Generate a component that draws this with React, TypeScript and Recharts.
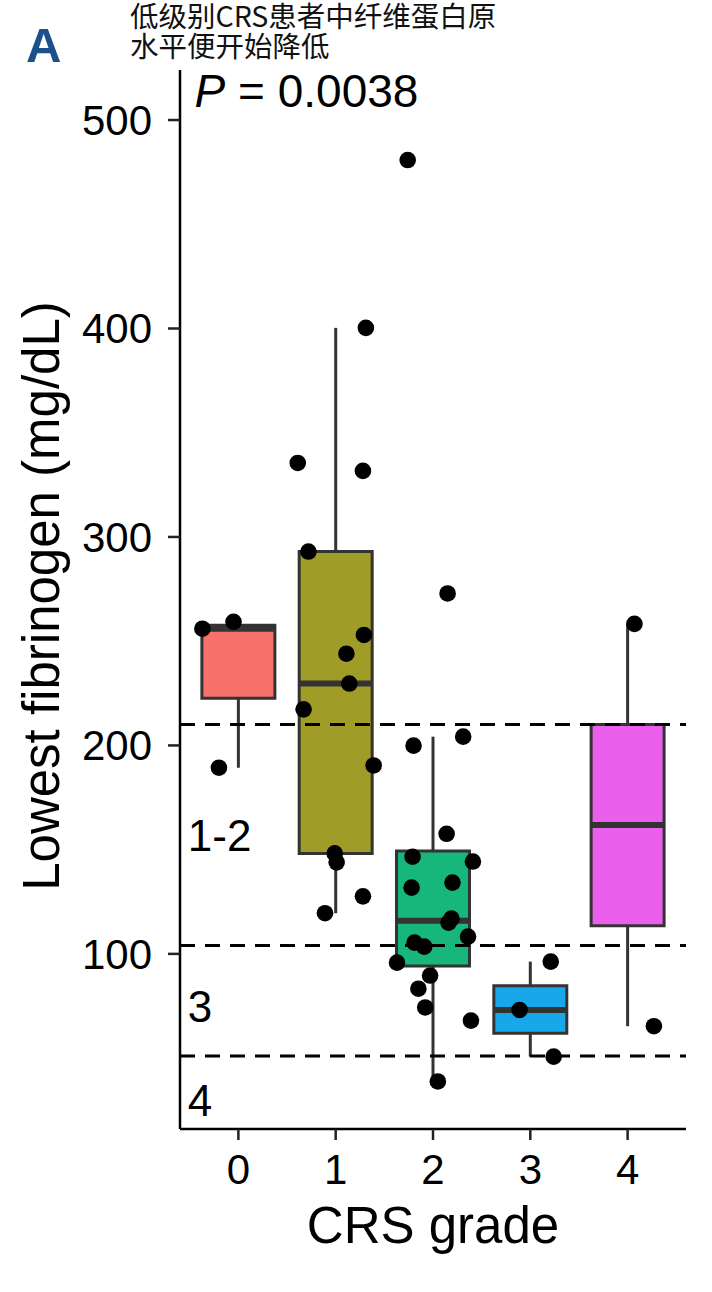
import { ComposedChart, XAxis, YAxis, Scatter, ReferenceArea, ReferenceLine } from 'recharts';

const FONT = '"Liberation Sans", Arial, Helvetica, sans-serif';
const CJK_FONT = '"Noto Sans CJK SC", sans-serif';

const grades = [0, 1, 2, 3, 4];
const gradeColors = ['#f8716a', '#9f9d27', '#17b67b', '#18a7e9', '#ea60ec'];
const yTicks = [100, 200, 300, 400, 500];

// lowest fibrinogen per patient (mg/dL), with the horizontal jitter seen in the figure
const grade0Values = [256, 259.3, 189.3];
const grade0Jitter = [-0.37, -0.05, -0.2];
const grade1Values = [335.5, 331.7, 400.3, 293, 253, 244, 229.7, 217.3, 190.4, 148.2, 143.9, 127.6, 119.5];
const grade1Jitter = [-0.39, 0.28, 0.31, -0.28, 0.29, 0.11, 0.14, -0.33, 0.39, -0.01, 0.01, 0.28, -0.11];
const grade2Values = [480.8, 272.9, 199.9, 204.2, 157.6, 146.6, 144.3, 131.8, 134.2, 116.9, 115, 108.3, 105.4, 103.5, 95.8, 89.6, 83.3, 74.3, 68, 38.8];
const grade2Jitter = [-0.26, 0.15, -0.2, 0.31, 0.14, -0.21, 0.41, -0.22, 0.2, 0.19, 0.16, 0.36, -0.19, -0.09, -0.37, -0.03, -0.15, -0.08, 0.39, 0.05];
const grade3Values = [73.1, 96.3, 50.7];
const grade3Jitter = [-0.11, 0.21, 0.24];
const grade4Values = [258.3, 65.3];
const grade4Jitter = [0.07, 0.27];

const gradeValues = [grade0Values, grade1Values, grade2Values, grade3Values, grade4Values];
const gradeJitter = [grade0Jitter, grade1Jitter, grade2Jitter, grade3Jitter, grade4Jitter];

// CRS grade cut-offs and their labels
const cutoffs = [210, 104, 51];
const bandLabels = ['1-2', '3', '4'];
const bandLabelY = [157, 75, 30];
const pLabel = '0.0038';

const titleLines = ['低级别CRS患者中纤维蛋白原', '水平便开始降低'];

const quantile = (sorted: number[], p: number) => {
  const h = (sorted.length - 1) * p;
  const lo = Math.floor(h);
  const hi = Math.ceil(h);
  return sorted[lo] + (h - lo) * (sorted[hi] - sorted[lo]);
};

// box stats like ggplot2 (type 7 quantiles, 1.5 IQR whiskers)
const boxes = grades.map((g, i) => {
  const s = [...gradeValues[i]].sort((a, b) => a - b);
  const q1 = quantile(s, 0.25);
  const med = quantile(s, 0.5);
  const q3 = quantile(s, 0.75);
  const iqr = q3 - q1;
  const lower = s.filter((v) => v >= q1 - 1.5 * iqr)[0];
  const upper = s.filter((v) => v <= q3 + 1.5 * iqr).slice(-1)[0];
  return { g, q1, med, q3, lower, upper, color: gradeColors[i] };
});

const points = grades.flatMap((g, i) =>
  gradeValues[i].map((v, j) => ({ x: g + gradeJitter[i][j], y: v }))
);

const bandData = bandLabels.map((label, i) => ({ x: -0.52, y: bandLabelY[i], label }));
const pData = [{ x: -0.45, y: 514, label: pLabel }];

const HALF = 0.375;

export default function App() {
  return (
    <div style={{ position: 'absolute', left: 0, top: 0, width: 712, height: 1292, background: '#fff' }}>
      <ComposedChart width={712} height={1292} margin={{ top: 70, right: 26, bottom: 0, left: 0 }}>
        <XAxis
          type="number"
          dataKey="x"
          domain={[-0.6, 4.6]}
          ticks={grades}
          interval={0}
          allowDataOverflow
          height={163}
          tickSize={11}
          tickMargin={14}
          axisLine={{ stroke: '#000', strokeWidth: 2.5 }}
          tickLine={{ stroke: '#222', strokeWidth: 2.5 }}
          tick={{ fill: '#000', fontSize: 42, fontFamily: FONT }}
          label={{ value: 'CRS grade', position: 'insideBottom', offset: 49, fill: '#000', fontSize: 51, fontFamily: FONT }}
        />
        <YAxis
          type="number"
          dataKey="y"
          domain={[16, 524]}
          ticks={yTicks}
          interval={0}
          allowDataOverflow
          width={180}
          tickSize={12}
          tickMargin={16}
          axisLine={{ stroke: '#000', strokeWidth: 2.5 }}
          tickLine={{ stroke: '#222', strokeWidth: 2.5 }}
          tick={{ fill: '#000', fontSize: 42, fontFamily: FONT }}
          label={{
            content: () => (
              <text
                x={59}
                y={596}
                transform="rotate(-90, 59, 596)"
                textAnchor="middle"
                fontSize={51}
                fontFamily={FONT}
                fill="#000"
              >
                Lowest fibrinogen (mg/dL)
              </text>
            ),
          }}
        />
        {boxes.map((b) => (
          <ReferenceArea
            key={`box-${b.g}`}
            x1={b.g - HALF}
            x2={b.g + HALF}
            y1={b.q1}
            y2={b.q3}
            fill={b.color}
            fillOpacity={1}
            stroke="#333"
            strokeWidth={3}
          />
        ))}
        {boxes.map((b) => (
          <ReferenceLine
            key={`up-${b.g}`}
            segment={[{ x: b.g, y: b.q3 }, { x: b.g, y: b.upper }]}
            stroke="#333"
            strokeWidth={3}
          />
        ))}
        {boxes.map((b) => (
          <ReferenceLine
            key={`lo-${b.g}`}
            segment={[{ x: b.g, y: b.q1 }, { x: b.g, y: b.lower }]}
            stroke="#333"
            strokeWidth={3}
          />
        ))}
        {boxes.map((b) => (
          <ReferenceLine
            key={`med-${b.g}`}
            segment={[{ x: b.g - HALF, y: b.med }, { x: b.g + HALF, y: b.med }]}
            stroke="#333"
            strokeWidth={6}
          />
        ))}
        {cutoffs.map((c) => (
          <ReferenceLine key={`cut-${c}`} y={c} stroke="#000" strokeWidth={3} strokeDasharray="15 10" />
        ))}
        <Scatter
          data={points}
          isAnimationActive={false}
          shape={(p: any) => <circle cx={p.cx} cy={p.cy} r={8.3} fill="#000" />}
        />
        <Scatter
          data={bandData}
          isAnimationActive={false}
          shape={(p: any) => (
            <text x={p.cx} y={p.cy} dy="0.36em" fontSize={44} fontFamily={FONT} fill="#000">
              {p.payload.label}
            </text>
          )}
        />
        <Scatter
          data={pData}
          isAnimationActive={false}
          shape={(p: any) => (
            <text x={p.cx} y={p.cy} dy="0.36em" fontSize={46} fontFamily={FONT} fill="#000">
              <tspan fontStyle="italic">P</tspan>
              {` = ${p.payload.label}`}
            </text>
          )}
        />
      </ComposedChart>
      <div
        style={{
          position: 'absolute',
          left: 26,
          top: 22,
          fontFamily: FONT,
          fontWeight: 700,
          fontSize: 49,
          lineHeight: '46px',
          color: '#1d4f8b',
        }}
      >
        A
      </div>
      <div
        style={{
          position: 'absolute',
          left: 130,
          top: 0,
          fontFamily: CJK_FONT,
          fontSize: 28.5,
          lineHeight: '30px',
          color: '#111',
          whiteSpace: 'nowrap',
        }}
      >
        {titleLines.map((t) => (
          <div key={t}>{t}</div>
        ))}
      </div>
    </div>
  );
}
